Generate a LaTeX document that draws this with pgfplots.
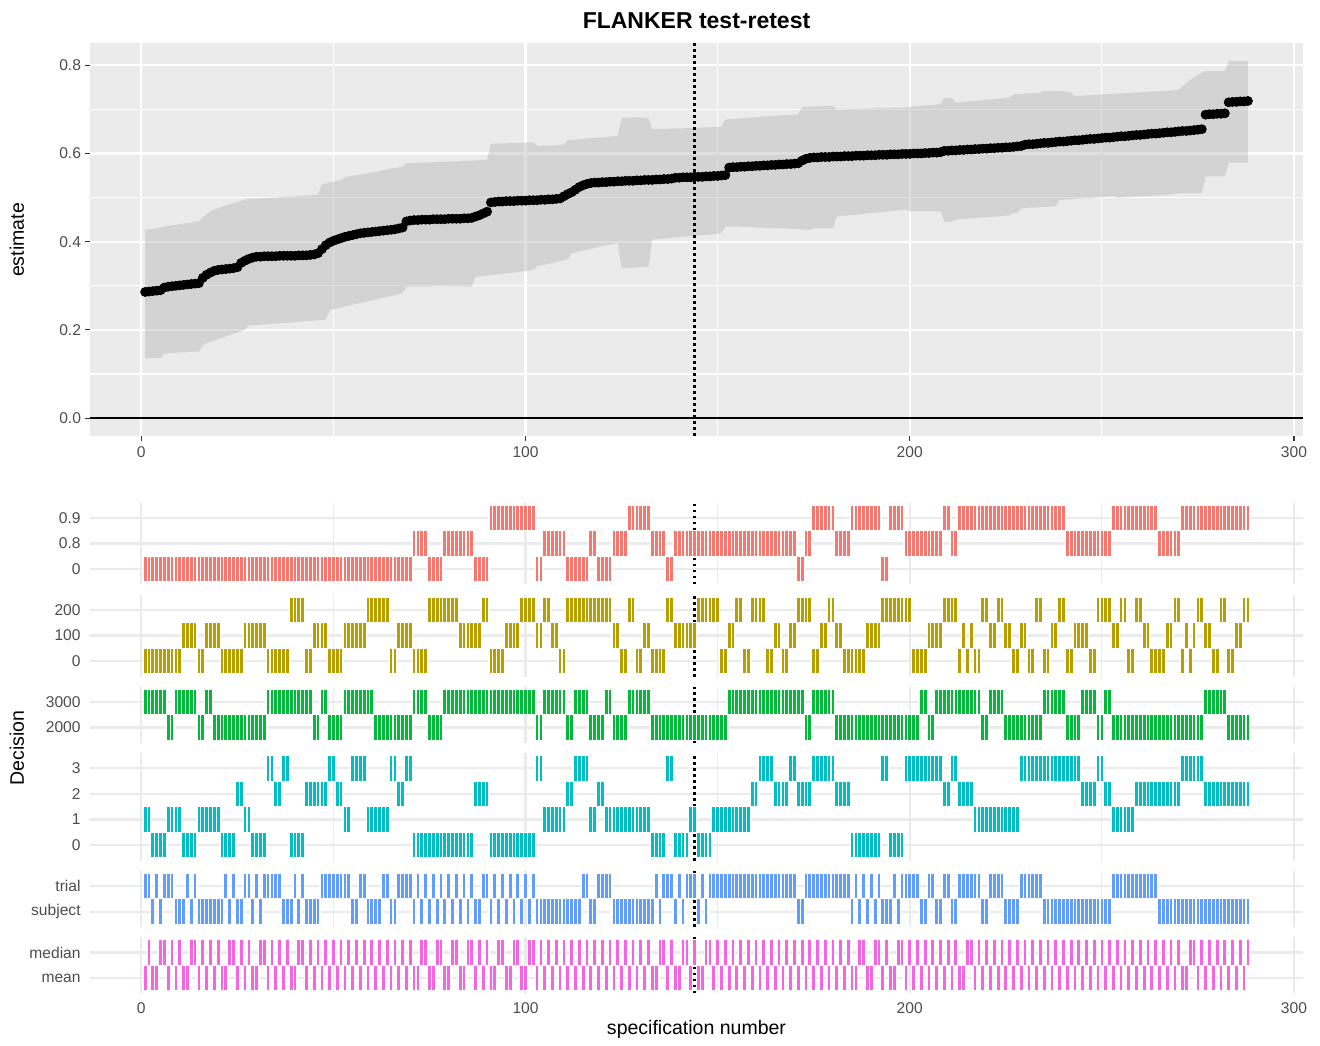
\documentclass[border=0pt]{standalone}
\usepackage{fontspec}
\setmainfont{Liberation Sans}
\usepackage{pgfplots}
\usepackage{pgfplotstable}
\pgfplotsset{compat=1.18}
\definecolor{panelbg}{HTML}{EBEBEB}
\definecolor{gridg}{HTML}{EBEBEB}
\definecolor{ribbon}{HTML}{B3B3B3}
\definecolor{ticktext}{HTML}{4D4D4D}
\definecolor{tickmark}{HTML}{333333}
\definecolor{cA}{HTML}{F8766D}
\definecolor{cB}{HTML}{B79F00}
\definecolor{cC}{HTML}{00BA38}
\definecolor{cD}{HTML}{00BFC4}
\definecolor{cE}{HTML}{619CFF}
\definecolor{cF}{HTML}{F564E3}
\pgfdeclareplotmark{tile}{\pgfpathrectangle{\pgfqpoint{-0.96pt}{-6.4pt}}{\pgfqpoint{1.92pt}{12.8pt}}\pgfusepathqfillstroke}

% s: specification number, est/lo/hi: estimate and interval,
% d1: 0=0, 1=0.8, 2=0.9 ; d2: 0=0, 1=100, 2=200 ; d3: 0=2000, 1=3000
% d4: 0..3 ; d5: 0=subject, 1=trial ; d6: 0=mean, 1=median
\pgfplotstableread{
s est lo hi d1 d2 d3 d4 d5 d6
1 0.286 0.136 0.427 0 0 1 1 1 0
2 0.287 0.136 0.428 0 0 1 1 1 1
3 0.288 0.136 0.429 0 0 1 0 0 0
4 0.289 0.136 0.430 0 0 1 0 1 0
5 0.290 0.136 0.432 0 0 1 0 0 1
6 0.296 0.147 0.435 0 0 1 0 1 1
7 0.298 0.147 0.436 0 0 0 1 1 0
8 0.299 0.148 0.437 0 0 0 1 1 1
9 0.300 0.148 0.438 0 0 1 1 0 0
10 0.301 0.149 0.440 0 0 1 1 0 1
11 0.302 0.149 0.441 0 1 1 0 0 0
12 0.303 0.150 0.442 0 1 1 0 1 0
13 0.304 0.150 0.443 0 1 1 0 0 1
14 0.305 0.151 0.445 0 1 1 0 1 1
15 0.306 0.151 0.446 0 0 0 1 0 0
16 0.318 0.165 0.455 0 0 0 1 0 1
17 0.325 0.170 0.462 0 1 1 1 0 0
18 0.330 0.173 0.468 0 1 1 1 0 1
19 0.334 0.176 0.473 0 1 0 1 0 0
20 0.336 0.179 0.476 0 1 0 1 0 1
21 0.337 0.182 0.479 0 0 0 0 0 0
22 0.338 0.185 0.482 0 0 0 0 1 0
23 0.339 0.188 0.485 0 0 0 0 0 1
24 0.340 0.191 0.488 0 0 0 0 1 1
25 0.342 0.194 0.490 0 0 0 2 0 0
26 0.352 0.197 0.493 0 0 0 2 0 1
27 0.357 0.200 0.495 0 1 0 1 1 0
28 0.361 0.210 0.497 0 1 0 1 1 1
29 0.364 0.210 0.497 0 1 0 0 0 0
30 0.366 0.211 0.498 0 1 0 0 1 0
31 0.366 0.212 0.498 0 1 0 0 0 1
32 0.367 0.212 0.499 0 1 0 0 1 1
33 0.367 0.213 0.499 0 0 1 3 1 0
34 0.367 0.214 0.500 0 0 1 3 1 1
35 0.367 0.214 0.500 0 0 1 2 1 0
36 0.368 0.215 0.501 0 0 1 2 1 1
37 0.368 0.216 0.501 0 0 1 3 0 0
38 0.368 0.216 0.502 0 0 1 3 0 1
39 0.368 0.217 0.502 0 2 1 0 0 0
40 0.368 0.218 0.503 0 2 1 0 1 0
41 0.369 0.218 0.503 0 2 1 0 0 1
42 0.369 0.219 0.504 0 2 1 0 1 1
43 0.369 0.220 0.504 0 0 1 2 0 0
44 0.370 0.220 0.505 0 0 1 2 0 1
45 0.371 0.221 0.506 0 1 0 2 0 0
46 0.374 0.222 0.507 0 1 0 2 0 1
47 0.383 0.222 0.530 0 1 1 2 1 0
48 0.392 0.223 0.532 0 1 1 2 1 1
49 0.398 0.245 0.534 0 0 0 3 1 0
50 0.402 0.247 0.536 0 0 0 3 1 1
51 0.405 0.249 0.538 0 0 0 2 1 0
52 0.408 0.251 0.540 0 0 0 2 1 1
53 0.411 0.253 0.546 0 1 1 1 1 0
54 0.413 0.255 0.548 0 1 1 1 1 1
55 0.415 0.257 0.549 0 1 1 3 0 0
56 0.417 0.259 0.551 0 1 1 3 0 1
57 0.419 0.261 0.552 0 1 1 3 1 0
58 0.420 0.263 0.554 0 1 1 3 1 1
59 0.421 0.265 0.555 0 2 1 1 0 0
60 0.422 0.267 0.557 0 2 1 1 0 1
61 0.423 0.269 0.558 0 2 0 1 0 0
62 0.424 0.271 0.560 0 2 0 1 0 1
63 0.425 0.273 0.562 0 2 0 1 1 0
64 0.426 0.275 0.564 0 2 0 1 1 1
65 0.427 0.277 0.566 0 0 0 3 0 0
66 0.428 0.279 0.567 0 0 0 3 0 1
67 0.430 0.281 0.569 0 1 0 2 1 0
68 0.432 0.283 0.571 0 1 0 2 1 1
69 0.446 0.298 0.578 0 1 0 3 1 0
70 0.448 0.298 0.578 0 1 0 3 1 1
71 0.449 0.298 0.579 1 0 1 0 0 0
72 0.449 0.298 0.579 1 0 1 0 1 0
73 0.450 0.298 0.579 1 0 1 0 0 1
74 0.450 0.298 0.580 1 0 1 0 1 1
75 0.450 0.298 0.580 0 2 0 0 0 0
76 0.451 0.300 0.580 0 2 0 0 1 0
77 0.451 0.300 0.581 0 2 0 0 0 1
78 0.451 0.300 0.581 0 2 0 0 1 1
79 0.451 0.300 0.581 1 2 1 0 0 0
80 0.452 0.300 0.582 1 2 1 0 1 0
81 0.452 0.299 0.582 1 2 1 0 0 1
82 0.452 0.299 0.582 1 2 1 0 1 1
83 0.452 0.299 0.583 1 1 1 0 0 0
84 0.453 0.299 0.583 1 1 1 0 1 0
85 0.453 0.298 0.584 1 1 1 0 0 1
86 0.454 0.298 0.584 1 1 1 0 1 1
87 0.457 0.320 0.584 0 1 1 2 0 0
88 0.460 0.321 0.585 0 1 1 2 0 1
89 0.464 0.322 0.585 0 2 1 2 1 0
90 0.468 0.323 0.586 0 2 1 2 1 1
91 0.489 0.324 0.622 2 0 1 0 0 0
92 0.490 0.325 0.622 2 0 1 0 1 0
93 0.491 0.326 0.623 2 0 1 0 0 1
94 0.491 0.327 0.623 2 0 1 0 1 1
95 0.492 0.328 0.623 2 1 1 0 0 0
96 0.492 0.329 0.624 2 1 1 0 1 0
97 0.492 0.330 0.624 2 1 1 0 0 1
98 0.493 0.331 0.624 2 1 1 0 1 1
99 0.493 0.332 0.624 2 2 1 0 0 0
100 0.493 0.333 0.625 2 2 1 0 1 0
101 0.494 0.334 0.625 2 2 1 0 0 1
102 0.494 0.336 0.625 2 2 1 0 1 1
103 0.494 0.344 0.617 0 1 0 3 0 0
104 0.495 0.346 0.617 0 1 0 3 0 1
105 0.495 0.348 0.618 1 2 1 1 0 0
106 0.496 0.350 0.618 1 2 1 1 0 1
107 0.496 0.352 0.618 1 1 1 1 0 0
108 0.497 0.354 0.619 1 1 1 1 0 1
109 0.498 0.356 0.619 1 0 1 1 0 0
110 0.503 0.358 0.620 1 0 1 1 0 1
111 0.508 0.360 0.630 0 2 0 2 0 0
112 0.512 0.374 0.631 0 2 0 2 0 1
113 0.518 0.376 0.632 0 2 1 3 0 0
114 0.524 0.378 0.632 0 2 1 3 0 1
115 0.528 0.380 0.633 0 2 1 3 1 0
116 0.531 0.382 0.634 0 2 1 3 1 1
117 0.533 0.384 0.635 1 2 0 1 0 0
118 0.534 0.386 0.635 1 2 0 1 0 1
119 0.534 0.388 0.636 0 2 0 2 1 0
120 0.535 0.390 0.637 0 2 0 2 1 1
121 0.535 0.392 0.637 0 2 1 1 1 0
122 0.536 0.393 0.638 0 2 1 1 1 1
123 0.536 0.395 0.639 1 1 0 1 0 0
124 0.537 0.397 0.640 1 1 0 1 0 1
125 0.537 0.340 0.680 1 0 0 1 0 0
126 0.538 0.340 0.681 1 0 0 1 0 1
127 0.538 0.341 0.681 2 2 1 1 0 0
128 0.538 0.341 0.682 2 2 1 1 0 1
129 0.539 0.342 0.682 2 0 1 1 0 0
130 0.539 0.342 0.682 2 0 1 1 0 1
131 0.540 0.343 0.681 2 1 1 1 0 0
132 0.540 0.343 0.680 2 1 1 1 0 1
133 0.540 0.405 0.655 1 0 0 0 0 0
134 0.541 0.406 0.655 1 0 0 0 1 0
135 0.541 0.406 0.656 1 0 0 0 0 1
136 0.542 0.407 0.656 1 0 0 0 1 1
137 0.542 0.408 0.656 0 2 0 3 1 0
138 0.543 0.409 0.657 0 2 0 3 1 1
139 0.545 0.409 0.657 1 1 0 0 0 0
140 0.545 0.410 0.657 1 1 0 0 1 0
141 0.546 0.411 0.657 1 1 0 0 0 1
142 0.546 0.412 0.658 1 1 0 0 1 1
143 0.546 0.412 0.658 1 1 0 1 1 0
144 0.547 0.413 0.658 1 1 0 1 1 1
145 0.547 0.414 0.658 1 2 0 0 0 0
146 0.547 0.415 0.659 1 2 0 0 1 0
147 0.548 0.415 0.659 1 2 0 0 0 1
148 0.548 0.416 0.659 1 2 0 0 1 1
149 0.549 0.417 0.660 1 2 0 1 1 0
150 0.549 0.418 0.660 1 2 0 1 1 1
151 0.550 0.420 0.660 1 0 0 1 1 0
152 0.551 0.435 0.677 1 0 0 1 1 1
153 0.568 0.435 0.678 1 1 1 1 1 0
154 0.569 0.434 0.678 1 1 1 1 1 1
155 0.569 0.434 0.679 1 2 1 1 1 0
156 0.570 0.434 0.680 1 2 1 1 1 1
157 0.570 0.433 0.680 1 0 1 1 1 0
158 0.571 0.433 0.681 1 0 1 1 1 1
159 0.571 0.433 0.682 1 2 1 2 1 0
160 0.572 0.432 0.682 1 2 1 2 1 1
161 0.572 0.432 0.683 1 2 1 3 1 0
162 0.573 0.432 0.684 1 2 1 3 1 1
163 0.573 0.431 0.684 1 0 1 3 1 0
164 0.574 0.431 0.685 1 0 1 3 1 1
165 0.574 0.431 0.686 1 1 1 2 1 0
166 0.575 0.430 0.686 1 1 1 2 1 1
167 0.575 0.430 0.687 1 0 1 2 1 0
168 0.576 0.430 0.687 1 0 1 2 1 1
169 0.576 0.429 0.688 1 1 1 3 1 0
170 0.577 0.429 0.688 1 1 1 3 1 1
171 0.578 0.428 0.689 0 2 1 2 0 0
172 0.584 0.428 0.705 0 2 1 2 0 1
173 0.588 0.427 0.706 1 2 0 2 1 0
174 0.590 0.427 0.706 1 2 0 2 1 1
175 0.591 0.430 0.707 2 0 1 3 1 0
176 0.591 0.430 0.707 2 0 1 3 1 1
177 0.592 0.430 0.707 2 1 1 3 1 0
178 0.592 0.430 0.708 2 1 1 3 1 1
179 0.592 0.430 0.708 2 2 1 3 1 0
180 0.593 0.430 0.708 2 2 1 3 1 1
181 0.593 0.457 0.700 1 1 0 2 1 0
182 0.593 0.458 0.700 1 1 0 2 1 1
183 0.594 0.459 0.700 1 0 0 2 1 0
184 0.594 0.460 0.701 1 0 0 2 1 1
185 0.594 0.461 0.701 2 0 0 0 0 0
186 0.595 0.461 0.701 2 0 0 0 1 0
187 0.595 0.462 0.701 2 0 0 0 0 1
188 0.595 0.463 0.702 2 0 0 0 1 1
189 0.596 0.464 0.702 2 1 0 0 0 0
190 0.596 0.465 0.702 2 1 0 0 1 0
191 0.596 0.466 0.702 2 1 0 0 0 1
192 0.597 0.466 0.703 2 1 0 0 1 1
193 0.597 0.467 0.703 0 2 0 3 0 0
194 0.597 0.468 0.703 0 2 0 3 0 1
195 0.598 0.469 0.703 2 2 0 0 0 0
196 0.598 0.470 0.704 2 2 0 0 1 0
197 0.598 0.471 0.704 2 2 0 0 0 1
198 0.599 0.472 0.704 2 2 0 0 1 1
199 0.599 0.473 0.704 1 2 0 3 1 0
200 0.599 0.469 0.706 1 2 0 3 1 1
201 0.600 0.469 0.707 1 0 0 3 1 0
202 0.600 0.469 0.707 1 0 0 3 1 1
203 0.600 0.469 0.708 1 0 1 3 0 0
204 0.601 0.469 0.709 1 0 1 3 0 1
205 0.601 0.469 0.709 1 1 0 3 1 0
206 0.602 0.469 0.710 1 1 0 3 1 1
207 0.602 0.469 0.711 1 1 1 3 0 0
208 0.603 0.469 0.712 1 1 1 3 0 1
209 0.606 0.446 0.725 2 2 1 2 1 0
210 0.606 0.444 0.727 2 2 1 2 1 1
211 0.607 0.446 0.725 1 2 1 3 0 0
212 0.607 0.450 0.715 1 2 1 3 0 1
213 0.608 0.451 0.716 2 0 1 2 1 0
214 0.608 0.451 0.717 2 1 1 2 1 0
215 0.609 0.452 0.718 2 0 1 2 1 1
216 0.609 0.453 0.719 2 1 1 2 1 1
217 0.610 0.453 0.719 2 0 1 1 1 0
218 0.610 0.454 0.720 2 0 1 1 1 1
219 0.611 0.455 0.721 2 2 0 1 0 0
220 0.611 0.455 0.722 2 2 0 1 0 1
221 0.612 0.456 0.722 2 1 1 1 1 0
222 0.612 0.457 0.723 2 1 1 1 1 1
223 0.613 0.457 0.724 2 2 1 1 1 0
224 0.613 0.458 0.725 2 2 1 1 1 1
225 0.614 0.459 0.726 2 1 0 1 0 0
226 0.614 0.460 0.727 2 1 0 1 0 1
227 0.615 0.465 0.734 2 0 0 1 0 0
228 0.616 0.465 0.735 2 0 0 1 0 1
229 0.617 0.476 0.735 2 1 0 3 1 0
230 0.620 0.476 0.736 2 1 0 3 1 1
231 0.621 0.477 0.736 2 0 0 3 1 0
232 0.621 0.477 0.737 2 0 0 3 1 1
233 0.622 0.478 0.737 2 2 0 3 1 0
234 0.623 0.478 0.738 2 2 0 3 1 1
235 0.624 0.479 0.742 2 0 1 3 0 0
236 0.624 0.479 0.742 2 0 1 3 0 1
237 0.625 0.480 0.742 2 1 1 3 0 0
238 0.626 0.480 0.742 2 1 1 3 0 1
239 0.627 0.495 0.742 2 2 1 3 0 0
240 0.627 0.495 0.741 2 2 1 3 0 1
241 0.628 0.496 0.740 1 0 0 3 0 0
242 0.629 0.496 0.738 1 0 0 3 0 1
243 0.630 0.497 0.730 1 1 0 3 0 0
244 0.630 0.498 0.731 1 1 0 3 0 1
245 0.631 0.498 0.731 1 1 1 2 0 0
246 0.632 0.499 0.732 1 1 1 2 0 1
247 0.633 0.499 0.732 1 0 1 2 0 0
248 0.633 0.500 0.733 1 0 1 2 0 1
249 0.634 0.501 0.733 1 2 0 3 0 0
250 0.635 0.501 0.734 1 2 0 3 0 1
251 0.636 0.502 0.734 1 2 1 2 0 0
252 0.636 0.502 0.735 1 2 1 2 0 1
253 0.637 0.503 0.735 2 1 0 1 1 0
254 0.638 0.500 0.736 2 1 0 1 1 1
255 0.639 0.500 0.736 2 2 0 1 1 0
256 0.639 0.501 0.737 2 2 0 1 1 1
257 0.640 0.501 0.737 2 0 0 1 1 0
258 0.641 0.502 0.738 2 0 0 1 1 1
259 0.642 0.502 0.738 2 2 0 2 1 0
260 0.642 0.503 0.739 2 2 0 2 1 1
261 0.643 0.503 0.739 2 1 0 2 1 0
262 0.644 0.504 0.740 2 1 0 2 1 1
263 0.645 0.504 0.740 2 0 0 2 1 0
264 0.645 0.505 0.741 2 0 0 2 1 1
265 0.646 0.505 0.741 1 0 0 2 0 0
266 0.647 0.506 0.742 1 0 0 2 0 1
267 0.648 0.506 0.742 1 1 0 2 0 0
268 0.648 0.507 0.743 1 1 0 2 0 1
269 0.649 0.507 0.744 1 2 0 2 0 0
270 0.650 0.510 0.745 1 2 0 2 0 1
271 0.651 0.510 0.753 2 0 0 3 0 0
272 0.651 0.510 0.760 2 1 0 3 0 0
273 0.652 0.510 0.767 2 0 0 3 0 1
274 0.653 0.510 0.773 2 1 0 3 0 1
275 0.654 0.510 0.778 2 2 0 3 0 0
276 0.655 0.510 0.783 2 2 0 3 0 1
277 0.688 0.548 0.787 2 1 1 2 0 0
278 0.689 0.548 0.787 2 1 1 2 0 1
279 0.689 0.548 0.787 2 0 1 2 0 0
280 0.690 0.548 0.787 2 0 1 2 0 1
281 0.690 0.548 0.787 2 2 1 2 0 0
282 0.691 0.548 0.787 2 2 1 2 0 1
283 0.716 0.579 0.810 2 0 0 2 0 0
284 0.717 0.579 0.810 2 0 0 2 0 1
285 0.717 0.579 0.810 2 1 0 2 0 0
286 0.718 0.579 0.810 2 1 0 2 0 1
287 0.718 0.579 0.810 2 2 0 2 0 0
288 0.719 0.579 0.810 2 2 0 2 0 1
}\spec

\pgfplotsset{
  base/.style={
    anchor=south west, scale only axis, width=606.5pt,
    xmin=-13.35, xmax=302.35,
    axis line style={draw=none},
    tick pos=left,
    xtick={0,100,200,300}, minor xtick={50,150,250},
    grid=both, minor tick length=0pt,
    every tick label/.append style={font=\fontsize{7.8}{9}\selectfont, text=ticktext},
    /pgf/number format/assume math mode=true,
  },
  dec/.style={
    base, major tick length=0pt,
    major grid style={gridg, line width=1.1pt},
    minor grid style={gridg, line width=0.55pt},
    xticklabels={},
    yticklabel style={anchor=east, inner sep=0pt, xshift=-4.5pt},
    xticklabel style={anchor=north, inner sep=0pt, yshift=-4.6pt},
  },
  tiles/.style={only marks, mark=tile, mark options={fill=#1, draw=white, line width=0.55pt}},
  vdot/.style={black, line width=1.1pt, dash pattern=on 1.3pt off 1.7pt},
}

\begin{document}
\begin{tikzpicture}[x=1pt,y=1pt]
\path (0,0) rectangle (660,519);

% ---------------- top panel ----------------
\begin{axis}[base, at={(45pt,301pt)}, height=196.5pt,
  ymin=-0.0405, ymax=0.8505,
  axis background/.style={fill=panelbg},
  major grid style={white, line width=1.1pt},
  minor grid style={white, line width=0.55pt},
  tick align=outside, major tick length=2.3pt,
  tick style={tickmark, line width=0.55pt},
  ytick={0,0.2,0.4,0.6,0.8}, minor ytick={0.1,0.3,0.5,0.7},
  yticklabels={0.0,0.2,0.4,0.6,0.8},
  xticklabels={0,100,200,300},
  yticklabel style={anchor=east, inner sep=0pt, xshift=-2.0pt},
  xticklabel style={anchor=north, inner sep=0pt, yshift=-2.6pt}]
\addplot[draw=none, stack plots=y, forget plot] table[x=s,y=lo]{\spec};
\addplot[fill=ribbon, fill opacity=0.41, draw=none, stack plots=y] table[x=s,y expr=\thisrow{hi}-\thisrow{lo}]{\spec} \closedcycle;
\addplot[black, line width=1.1pt, stack plots=false] coordinates {(-13.35,0) (302.35,0)};
\addplot[only marks, mark=*, mark size=2.25pt, black, stack plots=false] table[x=s,y=est]{\spec};
\addplot[vdot, stack plots=false] coordinates {(144,-0.0405) (144,0.8505)};
\end{axis}

% ---------------- decision panels ----------------
\begin{axis}[dec, at={(45pt,226.75pt)}, height=40.96pt, ymin=-0.6, ymax=2.6,
  ytick={0,1,2}, yticklabels={0,0.8,0.9}]
\addplot[tiles=cA] table[x=s,y=d1]{\spec};
\addplot[vdot] coordinates {(144,-0.6) (144,2.6)};
\end{axis}

\begin{axis}[dec, at={(45pt,180.74pt)}, height=40.96pt, ymin=-0.6, ymax=2.6,
  ytick={0,1,2}, yticklabels={0,100,200}]
\addplot[tiles=cB] table[x=s,y=d2]{\spec};
\addplot[vdot] coordinates {(144,-0.6) (144,2.6)};
\end{axis}

\begin{axis}[dec, at={(45pt,147.53pt)}, height=28.16pt, ymin=-0.6, ymax=1.6,
  ytick={0,1}, yticklabels={2000,3000}]
\addplot[tiles=cC] table[x=s,y=d3]{\spec};
\addplot[vdot] coordinates {(144,-0.6) (144,1.6)};
\end{axis}

\begin{axis}[dec, at={(45pt,88.72pt)}, height=53.76pt, ymin=-0.6, ymax=3.6,
  ytick={0,1,2,3}, yticklabels={0,1,2,3}]
\addplot[tiles=cD] table[x=s,y=d4]{\spec};
\addplot[vdot] coordinates {(144,-0.6) (144,3.6)};
\end{axis}

\begin{axis}[dec, at={(45pt,55.51pt)}, height=28.16pt, ymin=-0.6, ymax=1.6,
  ytick={0,1}, yticklabels={subject,trial}]
\addplot[tiles=cE] table[x=s,y=d5]{\spec};
\addplot[vdot] coordinates {(144,-0.6) (144,1.6)};
\end{axis}

\begin{axis}[dec, at={(45pt,22.3pt)}, height=28.16pt, ymin=-0.6, ymax=1.6,
  ytick={0,1}, yticklabels={mean,median},
  xticklabels={0,100,200,300}]
\addplot[tiles=cF] table[x=s,y=d6]{\spec};
\addplot[vdot] coordinates {(144,-0.6) (144,1.6)};
\end{axis}

% ---------------- titles ----------------
\node[anchor=base, font=\fontsize{11.5}{13}\selectfont\bfseries] at (348.25,504.8) {FLANKER test-retest};
\node[rotate=90, font=\fontsize{9.76}{11}\selectfont] at (8.5,399) {estimate};
\node[rotate=90, font=\fontsize{9.76}{11}\selectfont] at (8.5,145) {Decision};
\node[anchor=base, font=\fontsize{9.76}{11}\selectfont] at (348.25,1.5) {specification number};
\end{tikzpicture}
\end{document}
